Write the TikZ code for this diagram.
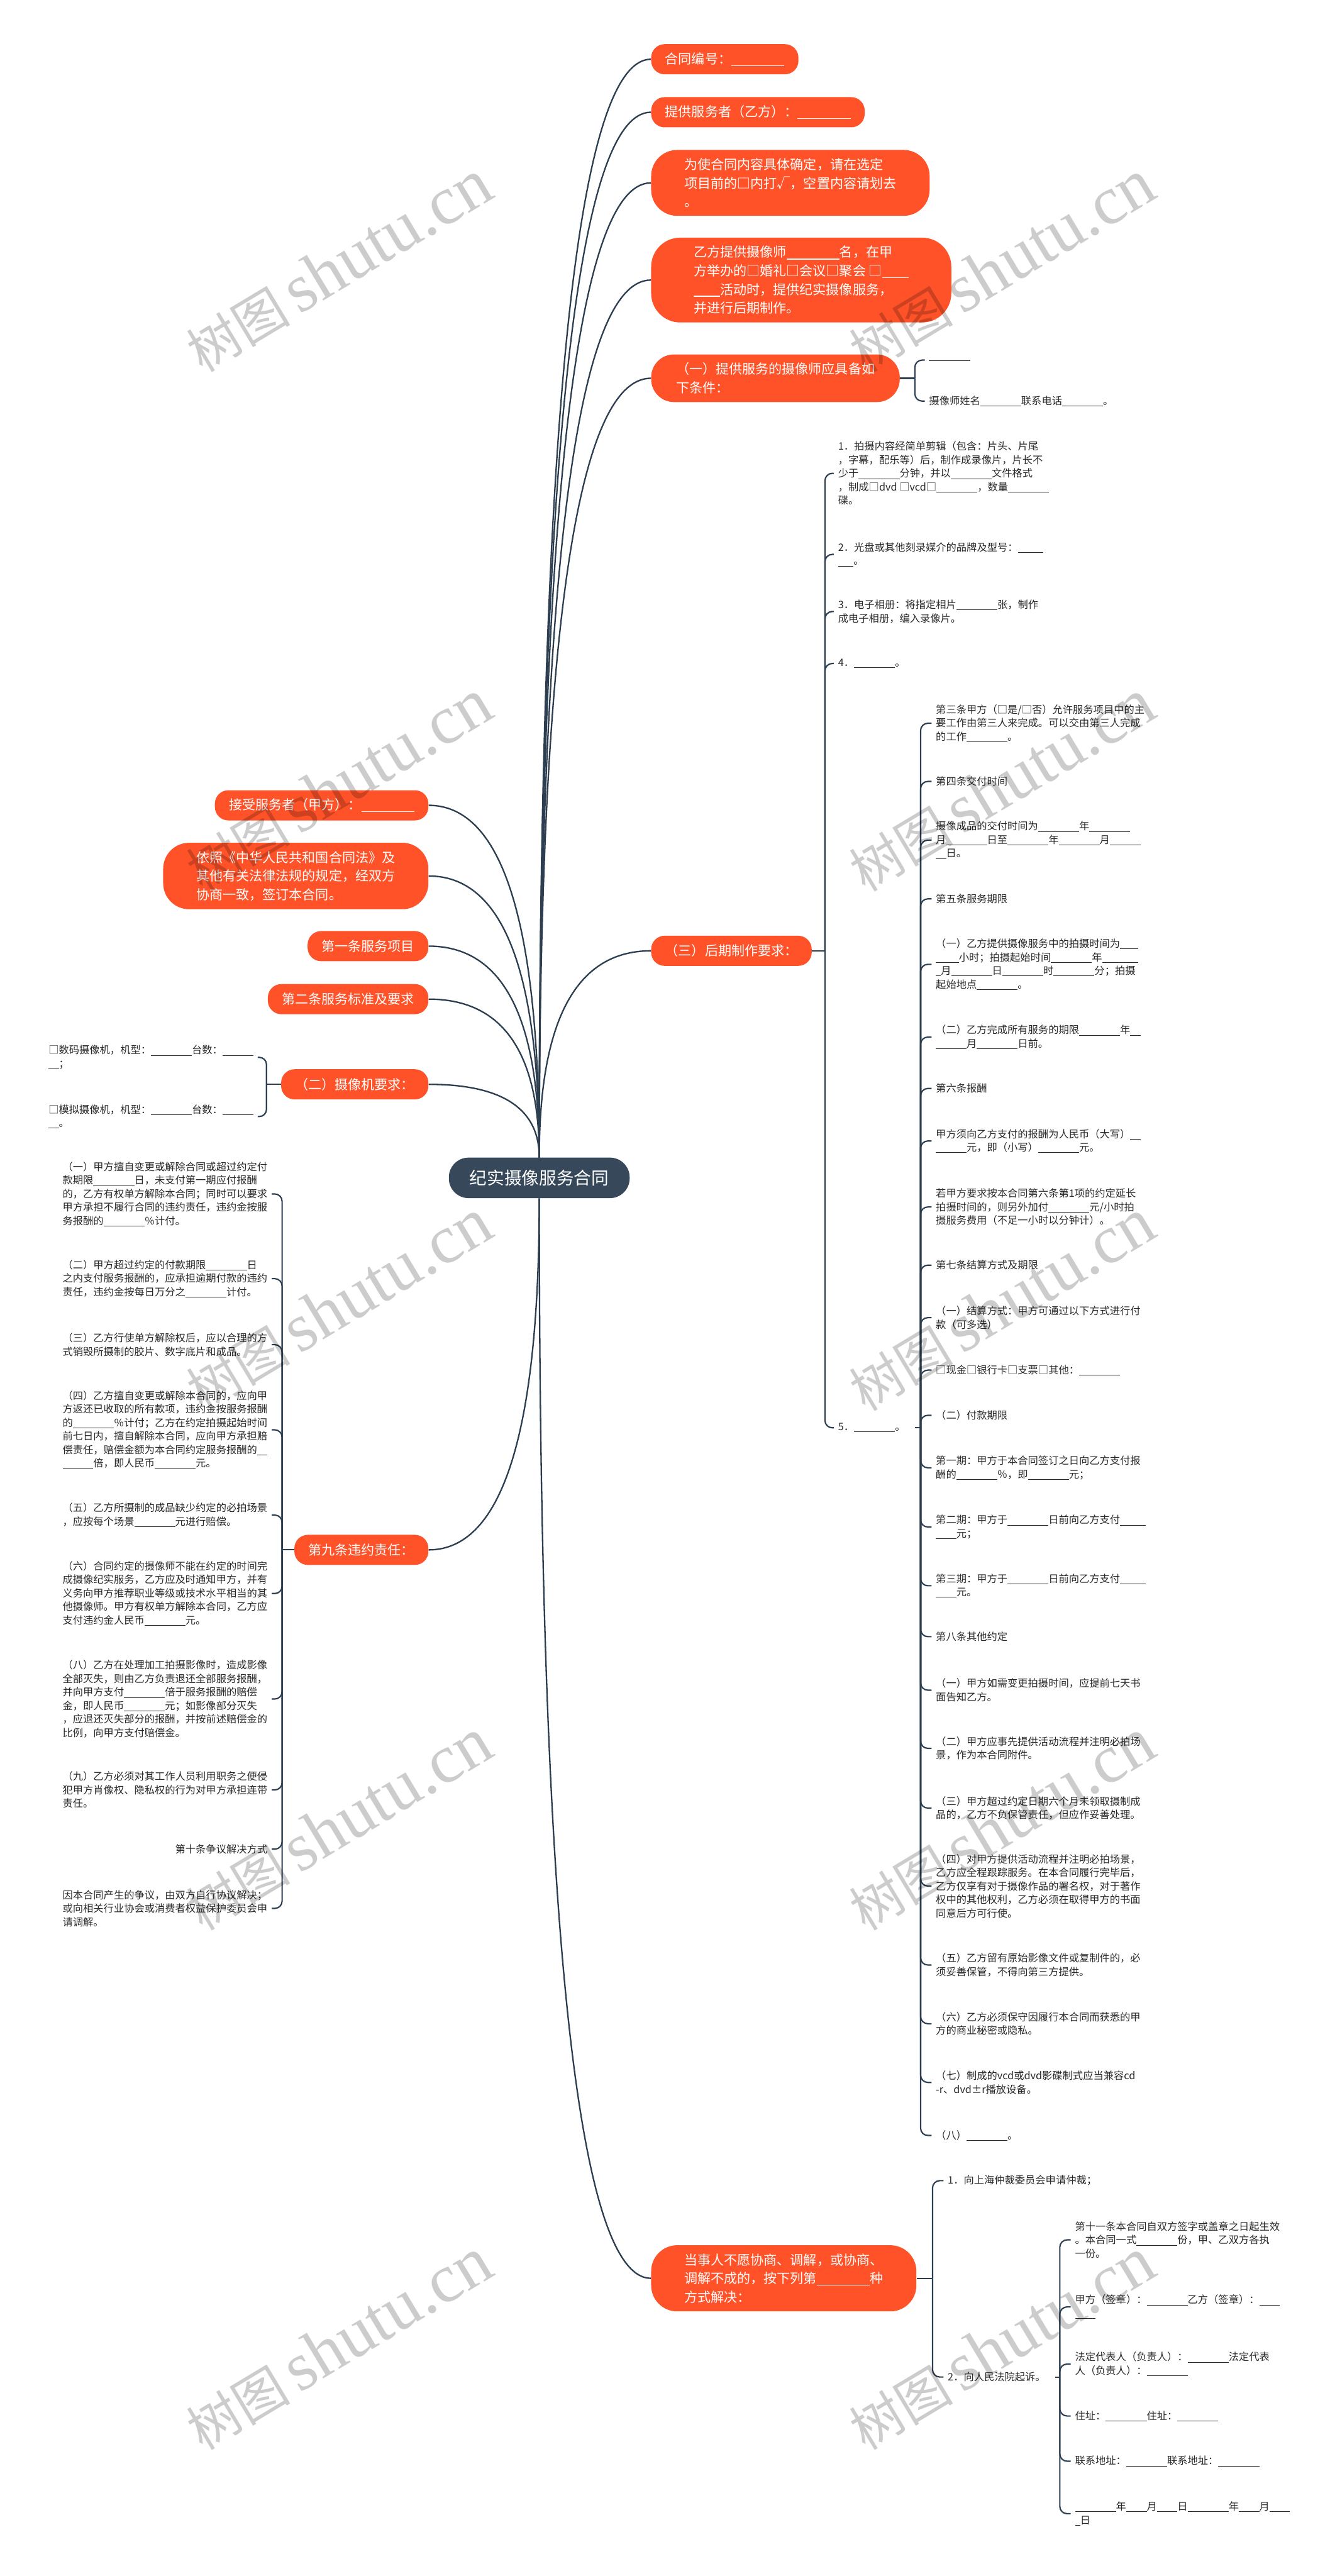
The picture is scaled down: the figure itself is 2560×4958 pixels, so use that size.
\documentclass[tikz,border=0pt]{standalone}
\usepackage{fontspec}
\setmainfont{Noto Sans CJK SC}
\newfontfamily\wmlat{Liberation Serif}
\usetikzlibrary{calc}
\definecolor{orng}{RGB}{255,82,40}
\definecolor{slate}{RGB}{54,72,90}
\definecolor{linec}{RGB}{44,62,80}
\definecolor{txt}{RGB}{40,40,40}
\newcommand\blk[1][4]{\rule[-0.17em]{#1em}{0.06em}}
\newcommand\mlink[2]{%
  \coordinate (tmpk) at (#1 |- #2);
  \draw[mainline] (#1) .. controls ($(#1)!0.667!(tmpk)$) and ($(#2)!0.667!(tmpk)$) .. (#2);}
\tikzset{
 onode/.style={fill=orng, text=white, font=\fontsize{12.75pt}{17.9pt}\selectfont, align=left, inner ysep=8pt},
 o1/.style={onode, rounded corners=13pt, inner xsep=13.5pt, minimum height=29pt},
 o2/.style={onode, rounded corners=22pt, inner xsep=24pt},
 o3/.style={onode, rounded corners=25pt, inner xsep=32pt},
 o4/.style={onode, rounded corners=28pt, inner xsep=41pt},
 cnode/.style={fill=slate, text=white, rounded corners=19pt, inner xsep=20pt, inner ysep=11pt, minimum height=39pt, font=\fontsize{16.75pt}{20pt}\selectfont},
 leaf/.style={font=\fontsize{9.85pt}{13pt}\selectfont, align=left, inner xsep=4pt, inner ysep=2pt, text=txt},
 mainline/.style={draw=linec, line width=1.4pt},
 subline/.style={draw=linec, line width=1.3pt, rounded corners=7pt},
 wmark/.style={text=black, text opacity=0.2, rotate=31, inner sep=0pt}
}
\begin{document}
\begin{tikzpicture}[x=0.5pt,y=-0.5pt]
\fill[white] (0,0) rectangle (2560,4958);
\useasboundingbox (0,0) rectangle (2560,4958);

% central
\node[cnode] (cen) at (1038,2267) {纪实摄像服务合同};

% right main branches
\node[o1, anchor=west] (n1) at (1253,114) {合同编号：\blk{}};
\node[o1, anchor=west] (n2) at (1253,216) {提供服务者（乙方）：\blk{}};
\node[o3, anchor=west] (n3) at (1253,352) {为使合同内容具体确定，请在选定\\项目前的□内打√，空置内容请划去\\。};
\node[o4, anchor=west] (n4) at (1253,539) {乙方提供摄像师\blk{}名，在甲\\方举办的□婚礼□会议□聚会 □\blk[2]\\\blk[2]活动时，提供纪实摄像服务，\\并进行后期制作。};
\node[o2, anchor=west] (n5) at (1253,728) {（一）提供服务的摄像师应具备如\\下条件：};
\node[o1, anchor=west] (n6) at (1253,1830) {（三）后期制作要求：};
\node[o3, anchor=west] (n7) at (1253,4385) {当事人不愿协商、调解，或协商、\\调解不成的，按下列第\blk{}种\\方式解决：};

% left main branches
\node[o1, anchor=east] (l1) at (825,1550) {接受服务者（甲方）：\blk{}};
\node[o3, anchor=east] (l2) at (825,1686) {依照《中华人民共和国合同法》及\\其他有关法律法规的规定，经双方\\协商一致，签订本合同。};
\node[o1, anchor=east] (l3) at (825,1821) {第一条服务项目};
\node[o1, anchor=east] (l4) at (825,1923) {第二条服务标准及要求};
\node[o1, anchor=east] (l5) at (825,2087) {（二）摄像机要求：};
\node[o1, anchor=east] (l6) at (825,2983) {第九条违约责任：};

% main links
\mlink{cen.north}{n1.west}
\mlink{cen.north}{n2.west}
\mlink{cen.north}{n3.west}
\mlink{cen.north}{n4.west}
\mlink{cen.north}{n5.west}
\mlink{cen.north}{n6.west}
\mlink{cen.south}{n7.west}
\mlink{cen.north}{l1.east}
\mlink{cen.north}{l2.east}
\mlink{cen.north}{l3.east}
\mlink{cen.north}{l4.east}
\mlink{cen.north}{l5.east}
\mlink{cen.south}{l6.east}

% (一) children
\node[leaf, anchor=west] (a1) at (1780,693) {\blk{}};
\node[leaf, anchor=west] (a2) at (1780,772) {摄像师姓名\blk{}联系电话\blk{}。};
\coordinate (ja) at (1761,728);
\draw[subline] (n5.east) -- (ja);
\foreach \c in {a1,a2} \draw[subline] (ja) |- (\c.west);

% (三) children
\node[leaf, anchor=west] (b1) at (1605,911) {1．拍摄内容经简单剪辑（包含：片头、片尾\\，字幕，配乐等）后，制作成录像片，片长不\\少于\blk{}分钟，并以\blk{}文件格式\\，制成□dvd □vcd□\blk{}，数量\blk{}\\碟。};
\node[leaf, anchor=west] (b2) at (1605,1067) {2．光盘或其他刻录媒介的品牌及型号：\blk[2.5]\\\blk[1.5]。};
\node[leaf, anchor=west] (b3) at (1605,1177) {3．电子相册：将指定相片\blk{}张，制作\\成电子相册，编入录像片。};
\node[leaf, anchor=west] (b4) at (1605,1277) {4．\blk{}。};
\node[leaf, anchor=west] (b5) at (1605,2748) {5．\blk{}。};
\coordinate (jb) at (1588,1830);
\draw[subline] (n6.east) -- (jb);
\foreach \c in {b1,b2,b3,b4,b5} \draw[subline] (jb) |- (\c.west);

% 5. children
\node[leaf, anchor=west] (c1) at (1793,1392) {第三条甲方（□是/□否）允许服务项目中的主\\要工作由第三人来完成。可以交由第三人完成\\的工作\blk{}。};
\node[leaf, anchor=west] (c2) at (1793,1504) {第四条交付时间};
\node[leaf, anchor=west] (c3) at (1793,1617) {摄像成品的交付时间为\blk{}年\blk{}\\月\blk{}日至\blk{}年\blk{}月\blk[3]\\\blk[1]日。};
\node[leaf, anchor=west] (c4) at (1793,1730) {第五条服务期限};
\node[leaf, anchor=west] (c5) at (1793,1856) {（一）乙方提供摄像服务中的拍摄时间为\blk[1.75]\\\blk[2.25]小时；拍摄起始时间\blk{}年\blk[3.5]\\\blk[0.5]月\blk{}日\blk{}时\blk{}分；拍摄\\起始地点\blk{}。};
\node[leaf, anchor=west] (c6) at (1793,1996) {（二）乙方完成所有服务的期限\blk{}年\blk[1]\\\blk[3]月\blk{}日前。};
\node[leaf, anchor=west] (c7) at (1793,2095) {第六条报酬};
\node[leaf, anchor=west] (c8) at (1793,2196) {甲方须向乙方支付的报酬为人民币（大写）\blk[1]\\\blk[3]元，即（小写）\blk{}元。};
\node[leaf, anchor=west] (c9) at (1793,2323) {若甲方要求按本合同第六条第1项的约定延长\\拍摄时间的，则另外加付\blk{}元/小时拍\\摄服务费用（不足一小时以分钟计）。};
\node[leaf, anchor=west] (c10) at (1793,2435) {第七条结算方式及期限};
\node[leaf, anchor=west] (c11) at (1793,2536) {（一）结算方式：甲方可通过以下方式进行付\\款（可多选）};
\node[leaf, anchor=west] (c12) at (1793,2637) {□现金□银行卡□支票□其他：\blk{}};
\node[leaf, anchor=west] (c13) at (1793,2724) {（二）付款期限};
\node[leaf, anchor=west] (c14) at (1793,2825) {第一期：甲方于本合同签订之日向乙方支付报\\酬的\blk{}％，即\blk{}元；};
\node[leaf, anchor=west] (c15) at (1793,2939) {第二期：甲方于\blk{}日前向乙方支付\blk[2.5]\\\blk[2]元；};
\node[leaf, anchor=west] (c16) at (1793,3052) {第三期：甲方于\blk{}日前向乙方支付\blk[2.5]\\\blk[2]元。};
\node[leaf, anchor=west] (c17) at (1793,3150) {第八条其他约定};
\node[leaf, anchor=west] (c18) at (1793,3253) {（一）甲方如需变更拍摄时间，应提前七天书\\面告知乙方。};
\node[leaf, anchor=west] (c19) at (1793,3365) {（二）甲方应事先提供活动流程并注明必拍场\\景，作为本合同附件。};
\node[leaf, anchor=west] (c20) at (1793,3480) {（三）甲方超过约定日期六个月未领取摄制成\\品的，乙方不负保管责任，但应作妥善处理。};
\node[leaf, anchor=west] (c21) at (1793,3630) {（四）对甲方提供活动流程并注明必拍场景，\\乙方应全程跟踪服务。在本合同履行完毕后，\\乙方仅享有对于摄像作品的署名权，对于著作\\权中的其他权利，乙方必须在取得甲方的书面\\同意后方可行使。};
\node[leaf, anchor=west] (c22) at (1793,3782) {（五）乙方留有原始影像文件或复制件的，必\\须妥善保管，不得向第三方提供。};
\node[leaf, anchor=west] (c23) at (1793,3895) {（六）乙方必须保守因履行本合同而获悉的甲\\方的商业秘密或隐私。};
\node[leaf, anchor=west] (c24) at (1793,4008) {（七）制成的vcd或dvd影碟制式应当兼容cd\\-r、dvd±r播放设备。};
\node[leaf, anchor=west] (c25) at (1793,4110) {（八）\blk{}。};
\coordinate (jc) at (1772,2748);
\draw[subline] ($(b5.east)+(10,0)$) -- (jc);
\foreach \c in {c1,c2,c3,c4,c5,c6,c7,c8,c9,c10,c11,c12,c13,c14,c15,c16,c17,c18,c19,c20,c21,c22,c23,c24,c25} \draw[subline] (jc) |- (\c.west);

% dispute children
\node[leaf, anchor=west] (d1) at (1816,4197) {1．向上海仲裁委员会申请仲裁；};
\node[leaf, anchor=west] (d2) at (1816,4575) {2．向人民法院起诉。};
\coordinate (jd) at (1795,4385);
\draw[subline] (n7.east) -- (jd);
\foreach \c in {d1,d2} \draw[subline] (jd) |- (\c.west);

\node[leaf, anchor=west] (e1) at (2061,4311) {第十一条本合同自双方签字或盖章之日起生效\\。本合同一式\blk{}份，甲、乙双方各执\\一份。};
\node[leaf, anchor=west] (e2) at (2061,4440) {甲方（签章）：\blk{}乙方（签章）：\blk[2]\\\blk[2]};
\node[leaf, anchor=west] (e3) at (2061,4550) {法定代表人（负责人）：\blk{}法定代表\\人（负责人）：\blk{}};
\node[leaf, anchor=west] (e4) at (2061,4650) {住址：\blk{}住址：\blk{}};
\node[leaf, anchor=west] (e5) at (2061,4737) {联系地址：\blk{}联系地址：\blk{}};
\node[leaf, anchor=west] (e6) at (2061,4838) {\blk{}年\blk[2]月\blk[2]日\blk{}年\blk[2]月\blk[2]\\\blk[0.5]日};
\coordinate (je) at (2040,4575);
\draw[subline] ($(d2.east)+(10,0)$) -- (je);
\foreach \c in {e1,e2,e3,e4,e5,e6} \draw[subline] (je) |- (\c.west);

% camera children
\node[leaf, anchor=east] (g1) at (496,2035) {□数码摄像机，机型：\blk{}台数：\blk[3]\\\blk[1]；};
\node[leaf, anchor=east] (g2) at (496,2149) {□模拟摄像机，机型：\blk{}台数：\blk[3]\\\blk[1]。};
\coordinate (jg) at (513,2087);
\draw[subline] (l5.west) -- (jg);
\foreach \c in {g1,g2} \draw[subline] (jg) |- (\c.east);

% breach children
\node[leaf, anchor=east] (f1) at (523,2298) {（一）甲方擅自变更或解除合同或超过约定付\\款期限\blk{}日，未支付第一期应付报酬\\的，乙方有权单方解除本合同；同时可以要求\\甲方承担不履行合同的违约责任，违约金按服\\务报酬的\blk{}％计付。};
\node[leaf, anchor=east] (f2) at (523,2461) {（二）甲方超过约定的付款期限\blk{}日\\之内支付服务报酬的，应承担逾期付款的违约\\责任，违约金按每日万分之\blk{}计付。};
\node[leaf, anchor=east] (f3) at (523,2588) {（三）乙方行使单方解除权后，应以合理的方\\式销毁所摄制的胶片、数字底片和成品。};
\node[leaf, anchor=east] (f4) at (523,2752) {（四）乙方擅自变更或解除本合同的，应向甲\\方返还已收取的所有款项，违约金按服务报酬\\的\blk{}％计付；乙方在约定拍摄起始时间\\前七日内，擅自解除本合同，应向甲方承担赔\\偿责任，赔偿金额为本合同约定服务报酬的\blk[1]\\\blk[3]倍，即人民币\blk{}元。};
\node[leaf, anchor=east] (f5) at (523,2916) {（五）乙方所摄制的成品缺少约定的必拍场景\\，应按每个场景\blk{}元进行赔偿。};
\node[leaf, anchor=east] (f6) at (523,3067) {（六）合同约定的摄像师不能在约定的时间完\\成摄像纪实服务，乙方应及时通知甲方，并有\\义务向甲方推荐职业等级或技术水平相当的其\\他摄像师。甲方有权单方解除本合同，乙方应\\支付违约金人民币\blk{}元。};
\node[leaf, anchor=east] (f7) at (523,3270) {（八）乙方在处理加工拍摄影像时，造成影像\\全部灭失，则由乙方负责退还全部服务报酬，\\并向甲方支付\blk{}倍于服务报酬的赔偿\\金，即人民币\blk{}元；如影像部分灭失\\，应退还灭失部分的报酬，并按前述赔偿金的\\比例，向甲方支付赔偿金。};
\node[leaf, anchor=east] (f8) at (523,3445) {（九）乙方必须对其工作人员利用职务之便侵\\犯甲方肖像权、隐私权的行为对甲方承担连带\\责任。};
\node[leaf, anchor=east] (f9) at (523,3559) {第十条争议解决方式};
\node[leaf, anchor=east] (f10) at (523,3673) {因本合同产生的争议，由双方自行协议解决；\\或向相关行业协会或消费者权益保护委员会申\\请调解。};
\coordinate (jf) at (543,2983);
\draw[subline] (l6.west) -- (jf);
\foreach \c in {f1,f2,f3,f4,f5,f6,f7,f8,f9,f10} \draw[subline] (jf) |- (\c.east);

% watermarks
\foreach \yy [count=\i] in {512,1512,2512,3512,4512} {
  \node[wmark] (wl\i) at (652,\yy) {\fontsize{50pt}{50pt}\selectfont 树图\,{\wmlat\fontsize{66pt}{66pt}\selectfont shutu.cn}};
  \node[wmark] (wr\i) at (1928,\yy) {\fontsize{50pt}{50pt}\selectfont 树图\,{\wmlat\fontsize{66pt}{66pt}\selectfont shutu.cn}};
}
\end{tikzpicture}
\end{document}
